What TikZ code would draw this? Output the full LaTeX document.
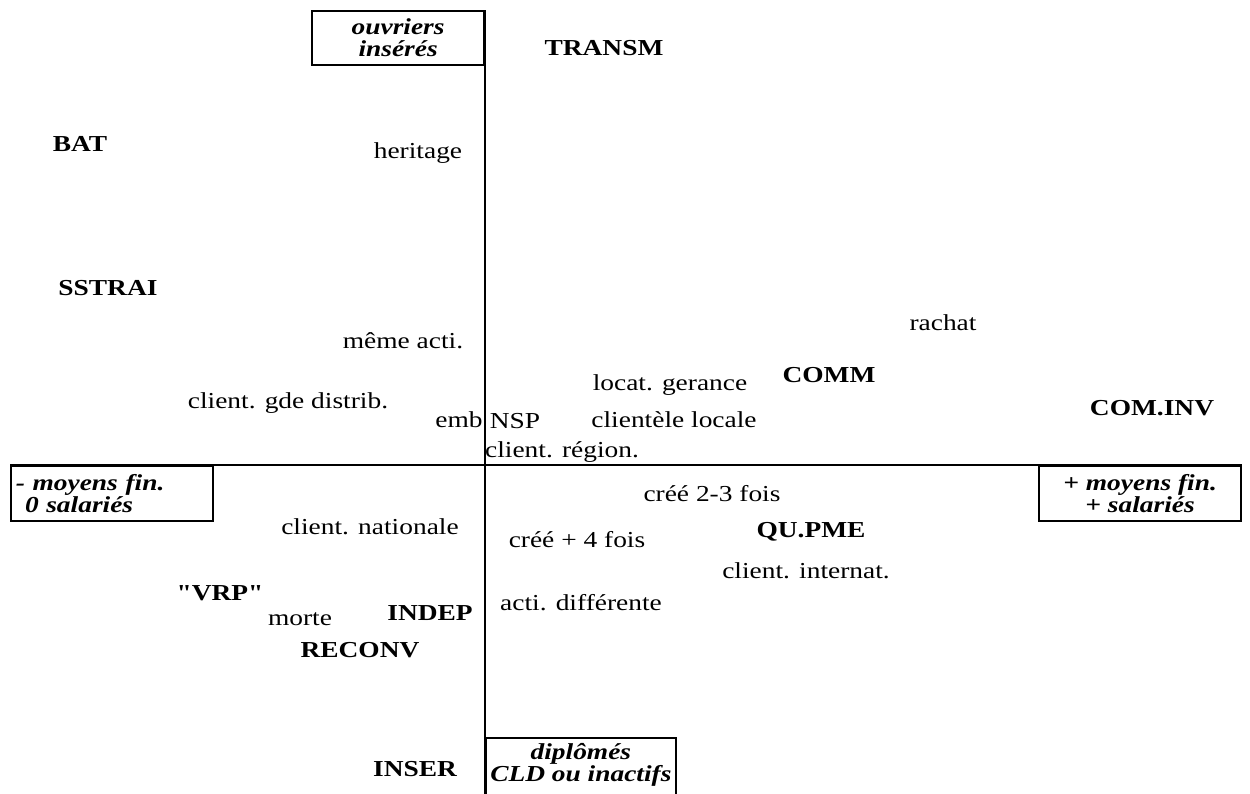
\documentclass[tikz,border=0pt]{standalone}
\usepackage{fontspec}
\setmainfont{Liberation Serif}[FakeStretch=1.2]
\begin{document}
\begin{tikzpicture}
[x=0.2mm, y=-0.2mm,
  axisDecorate/.style={-,line width=1pt},%
  boxDecorate/.style={draw,line width=1pt,inner sep=0pt,align=center,
    font=\fontsize{13}{12.5}\selectfont\bfseries\itshape},
  termDecorate/.style={anchor=base,inner sep=0pt,font=\fontsize{13}{15}\selectfont},
  modDecorate/.style={termDecorate,font=\fontsize{13}{15}\selectfont\bfseries}]
\useasboundingbox (0,0) rectangle (1250,793);
%% boxes at the ends of the axes
\node (ouvriers) at (485,10) [boxDecorate,anchor=north east,
  minimum width=34.4mm,minimum height=10.8mm] {ouvriers\\insérés};
\node (diplomes) at (485,737) [boxDecorate,anchor=north west,
  minimum width=38mm,minimum height=12mm] {diplômés\\CLD ou inactifs\\[-6pt]\mbox{}};
\node (moinsfin) at (10,465) [boxDecorate,anchor=north west,align=left,
  text width=38.4mm,inner xsep=1mm,minimum height=11mm]
  {- moyens fin.\\\hspace*{0.4em}0 salariés};
\node (plusfin) at (1242,465) [boxDecorate,anchor=north east,
  minimum width=40.4mm,minimum height=11mm] {+ moyens fin.\\+ salariés};
%% axes
\draw[axisDecorate] (ouvriers.north east) -- (diplomes.south west);
\draw[axisDecorate] (moinsfin.north west) -- (plusfin.north east);
%% modalities
\foreach \nodename/\x/\y/\txt in {
  heritage/418/158/heritage, rachat/943/330/rachat,
  memeacti/403/348/même acti., locat/670/390/locat. gerance,
  cltgde/288/408/client. gde distrib., emb/459/427/emb,
  nsp/515/428/NSP, cltloc/674/427/clientèle locale,
  cltreg/562/457/client. région., cree23/712/501/créé 2-3 fois,
  cltnat/370/534/client. nationale, cree4/577/547/créé + 4 fois,
  cltint/806/578/client. internat., actidif/581/610/acti. différente,
  morte/300/625/morte}
{
  \node (\nodename) at (\x,\y) [termDecorate] {\txt};
}
%% groups
\foreach \nodename/\x/\y/\txt in {
  transm/604/55/TRANSM, bat/80/151/BAT, sstrai/108/295/SSTRAI,
  comm/829/382/COMM, cominv/1152/415/COM.INV, qupme/811/537/QU.PME,
  vrp/220/600/{\addfontfeature{Ligatures=TeXOff}"VRP"},
  indep/430/620/INDEP, reconv/360/657/RECONV, inser/415/776/INSER}
{
  \node (\nodename) at (\x,\y) [modDecorate] {\txt};
}
\end{tikzpicture}
\end{document}
